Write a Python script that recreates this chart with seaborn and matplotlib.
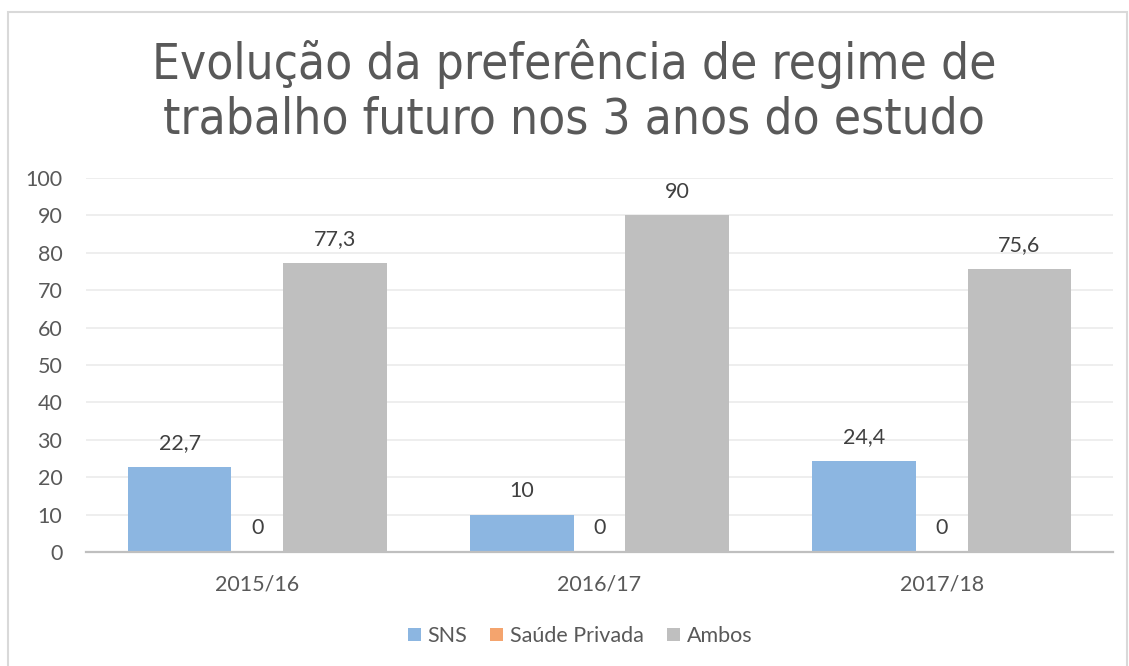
import matplotlib
matplotlib.use("Agg")
import matplotlib.pyplot as plt
import seaborn as sns
import pandas as pd
from matplotlib.patches import Rectangle, Patch
from matplotlib import font_manager

years = ["2015/16", "2016/17", "2017/18"]
series = ["SNS", "Saúde Privada", "Ambos"]
sns_vals = [22.7, 10, 24.4]
privada_vals = [0, 0, 0]
ambos_vals = [77.3, 90, 75.6]
colors = ["#8CB6E1", "#F4A46E", "#BFBFBF"]

rows = []
for i, y in enumerate(years):
    for s, vals in zip(series, [sns_vals, privada_vals, ambos_vals]):
        rows.append({"Ano": y, "Regime": s, "Valor": vals[i]})
df = pd.DataFrame(rows)

sns.set_theme(style="white")
names = {f.name for f in font_manager.fontManager.ttflist}
body_font = "Lato" if "Lato" in names else "DejaVu Sans"
plt.rcParams["font.family"] = [body_font, "DejaVu Sans"]

fig = plt.figure(figsize=(11.29, 6.66), dpi=100)
ax = fig.add_axes([86/1129, 1-552/666, (1113-86)/1129, (552-178)/666])

sns.barplot(data=df, x="Ano", y="Valor", hue="Regime", hue_order=series,
            palette=colors, width=0.68, ax=ax, legend=False, saturation=1)

bw = 104/343
for p in ax.patches:
    c = p.get_x() + p.get_width()/2
    p.set_width(bw)
    p.set_x(c - bw/2)
    p.set_edgecolor("none")

for cont in ax.containers:
    labels = [f"{v:g}".replace(".", ",") for v in cont.datavalues]
    ax.bar_label(cont, labels=labels, padding=10, fontsize=15.5, color="#404040")

ax.set_xlim(-0.5, 2.5)
ax.set_ylim(0, 100)
ax.set_yticks(range(0, 101, 10))
ax.yaxis.grid(True, color="#EDEDED", linewidth=1.3)
ax.set_axisbelow(True)
ax.set_xlabel("")
ax.set_ylabel("")
for s in ["top", "right", "left"]:
    ax.spines[s].set_visible(False)
ax.spines["bottom"].set_color("#BFBFBF")
ax.spines["bottom"].set_linewidth(1.6)
ax.tick_params(axis="both", length=0, labelsize=15.5, labelcolor="#595959")
ax.tick_params(axis="x", pad=16)
ax.tick_params(axis="y", pad=17)

title_kw = dict(ha="center", va="baseline", fontsize=35.5, color="#595959",
                family="DejaVu Sans", fontstretch="condensed")
fig.text(574/1129, 1-79/666, "Evolução da preferência de regime de", **title_kw)
fig.text(574/1129, 1-133/666, "trabalho futuro nos 3 anos do estudo", **title_kw)

handles = [Patch(facecolor=c, edgecolor="none") for c in colors]
fig.legend(handles, series, loc="center", bbox_to_anchor=(580/1129, 1-636/666),
           ncol=3, frameon=False, fontsize=15.5, labelcolor="#595959",
           handlelength=0.6, handleheight=0.6, handletextpad=0.3, columnspacing=1.1)

fig.patches.append(Rectangle((8/1129, -0.01), (1127-8)/1129, 1-12/666+0.01,
                             transform=fig.transFigure, fill=False,
                             edgecolor="#D9D9D9", linewidth=1.5))

fig.savefig("out.png", dpi=100)
